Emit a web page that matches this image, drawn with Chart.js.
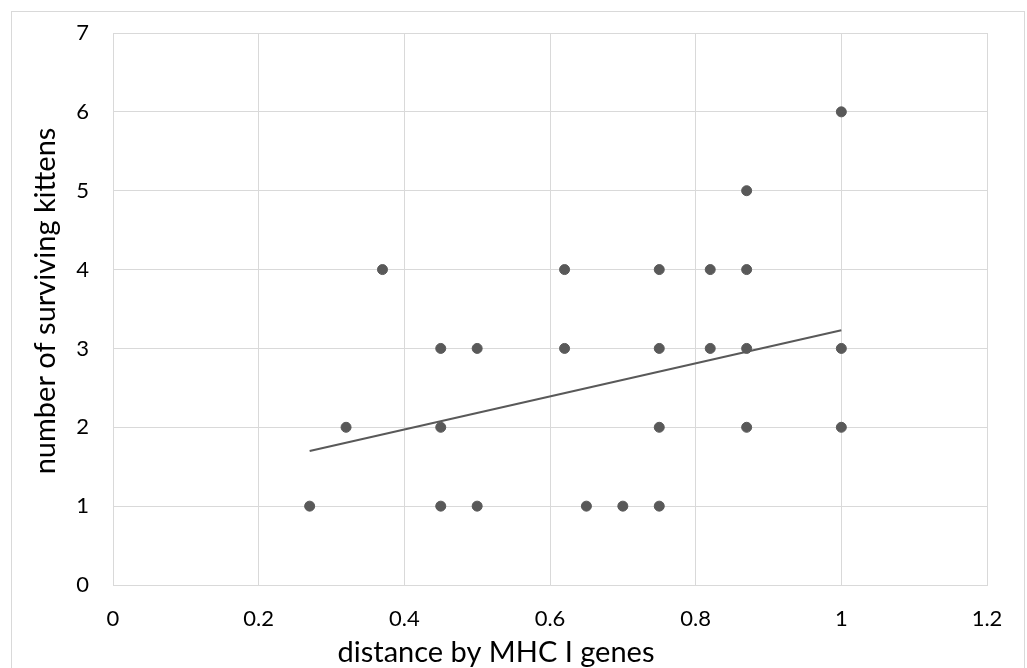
<!DOCTYPE html>
<html>
<head>
<meta charset="utf-8">
<script src="https://cdn.jsdelivr.net/npm/chart.js@4"></script>
<style>
    html, body { margin: 0; padding: 0; background: #fff; }
    #wrap { position: relative; width: 1027px; height: 668px; }
    #frame { position: absolute; left: 11px; top: 11px; width: 1014px; height: 670px; border: 1px solid #d9d9d9; box-sizing: border-box; }
    canvas { position: absolute; left: 0; top: 0; }
</style>
</head>
<body>
<div id="wrap">
    <div id="frame"></div>
    <canvas id="scatterChart" width="1027" height="668"></canvas>
</div>
<script>
// distance by MHC I genes vs. number of surviving kittens
const distance = [0.27, 0.32, 0.37, 0.45, 0.45, 0.45, 0.5, 0.5, 0.62, 0.62, 0.65, 0.7,
    0.75, 0.75, 0.75, 0.75, 0.82, 0.82, 0.87, 0.87, 0.87, 0.87, 1, 1, 1];
const kittens = [1, 2, 4, 3, 2, 1, 3, 1, 4, 3, 1, 1,
    4, 3, 2, 1, 4, 3, 5, 4, 3, 2, 6, 3, 2];

// linear trendline endpoints
const trendX = [0.27, 1];
const trendY = [1.70, 3.23];

const xTickLabels = ['0', '0.2', '0.4', '0.6', '0.8', '1', '1.2'];
const yTickLabels = ['0', '1', '2', '3', '4', '5', '6', '7'];

const xTitle = 'distance by MHC I genes';
const yTitle = 'number of surviving kittens';

const font = "Lato, 'Open Sans', sans-serif";

// axis titles sit a bit off the plot centre, like the original, so draw them by hand
const axisTitles = {
    id: 'axisTitles',
    afterDraw(chart) {
        const c = chart.ctx;
        c.save();
        c.fillStyle = '#000';
        c.font = "29px " + font;
        c.textAlign = 'center';
        c.textBaseline = 'middle';
        c.fillText(xTitle, 496, 653);
        c.translate(46, 301);
        c.rotate(-Math.PI / 2);
        c.fillText(yTitle, 0, 0);
        c.restore();
    }
};

document.addEventListener("DOMContentLoaded", () => {
    const points = distance.map((d, i) => ({ x: d, y: kittens[i] }));
    const trend = trendX.map((d, i) => ({ x: d, y: trendY[i] }));
    const grey = '#595959';

    const ctx = document.getElementById("scatterChart").getContext("2d");
    new Chart(ctx, {
        type: 'scatter',
        data: {
            datasets: [{
                label: 'kittens',
                data: points,
                backgroundColor: grey,
                borderColor: grey,
                pointRadius: 5,
                pointHoverRadius: 5
            }, {
                label: 'trend',
                type: 'line',
                data: trend,
                borderColor: grey,
                borderWidth: 2,
                pointRadius: 0,
                fill: false
            }]
        },
        options: {
            responsive: false,
            animation: false,
            layout: { padding: { top: 33, right: 40, left: 0, bottom: 0 } },
            plugins: {
                legend: { display: false },
                tooltip: { enabled: false }
            },
            scales: {
                x: {
                    type: 'linear',
                    min: 0,
                    max: 1.2,
                    ticks: {
                        stepSize: 0.2,
                        color: '#000',
                        font: { family: font, size: 22 },
                        padding: 21,
                        callback: (v, i) => xTickLabels[i]
                    },
                    grid: { color: '#d9d9d9', drawTicks: false },
                    border: { color: '#d9d9d9' },
                    afterFit: scale => { scale.height = 83; }
                },
                y: {
                    type: 'linear',
                    min: 0,
                    max: 7,
                    ticks: {
                        stepSize: 1,
                        color: '#000',
                        font: { family: font, size: 22 },
                        padding: 24,
                        callback: (v, i) => yTickLabels[i]
                    },
                    grid: { color: '#d9d9d9', drawTicks: false },
                    border: { color: '#d9d9d9' },
                    afterFit: scale => {
                        scale.width = 113;
                        // keep the plot top where the original has it
                        scale.paddingTop = 0;
                        scale.paddingBottom = 0;
                    }
                }
            }
        },
        plugins: [axisTitles]
    });
});
</script>
</body>
</html>
